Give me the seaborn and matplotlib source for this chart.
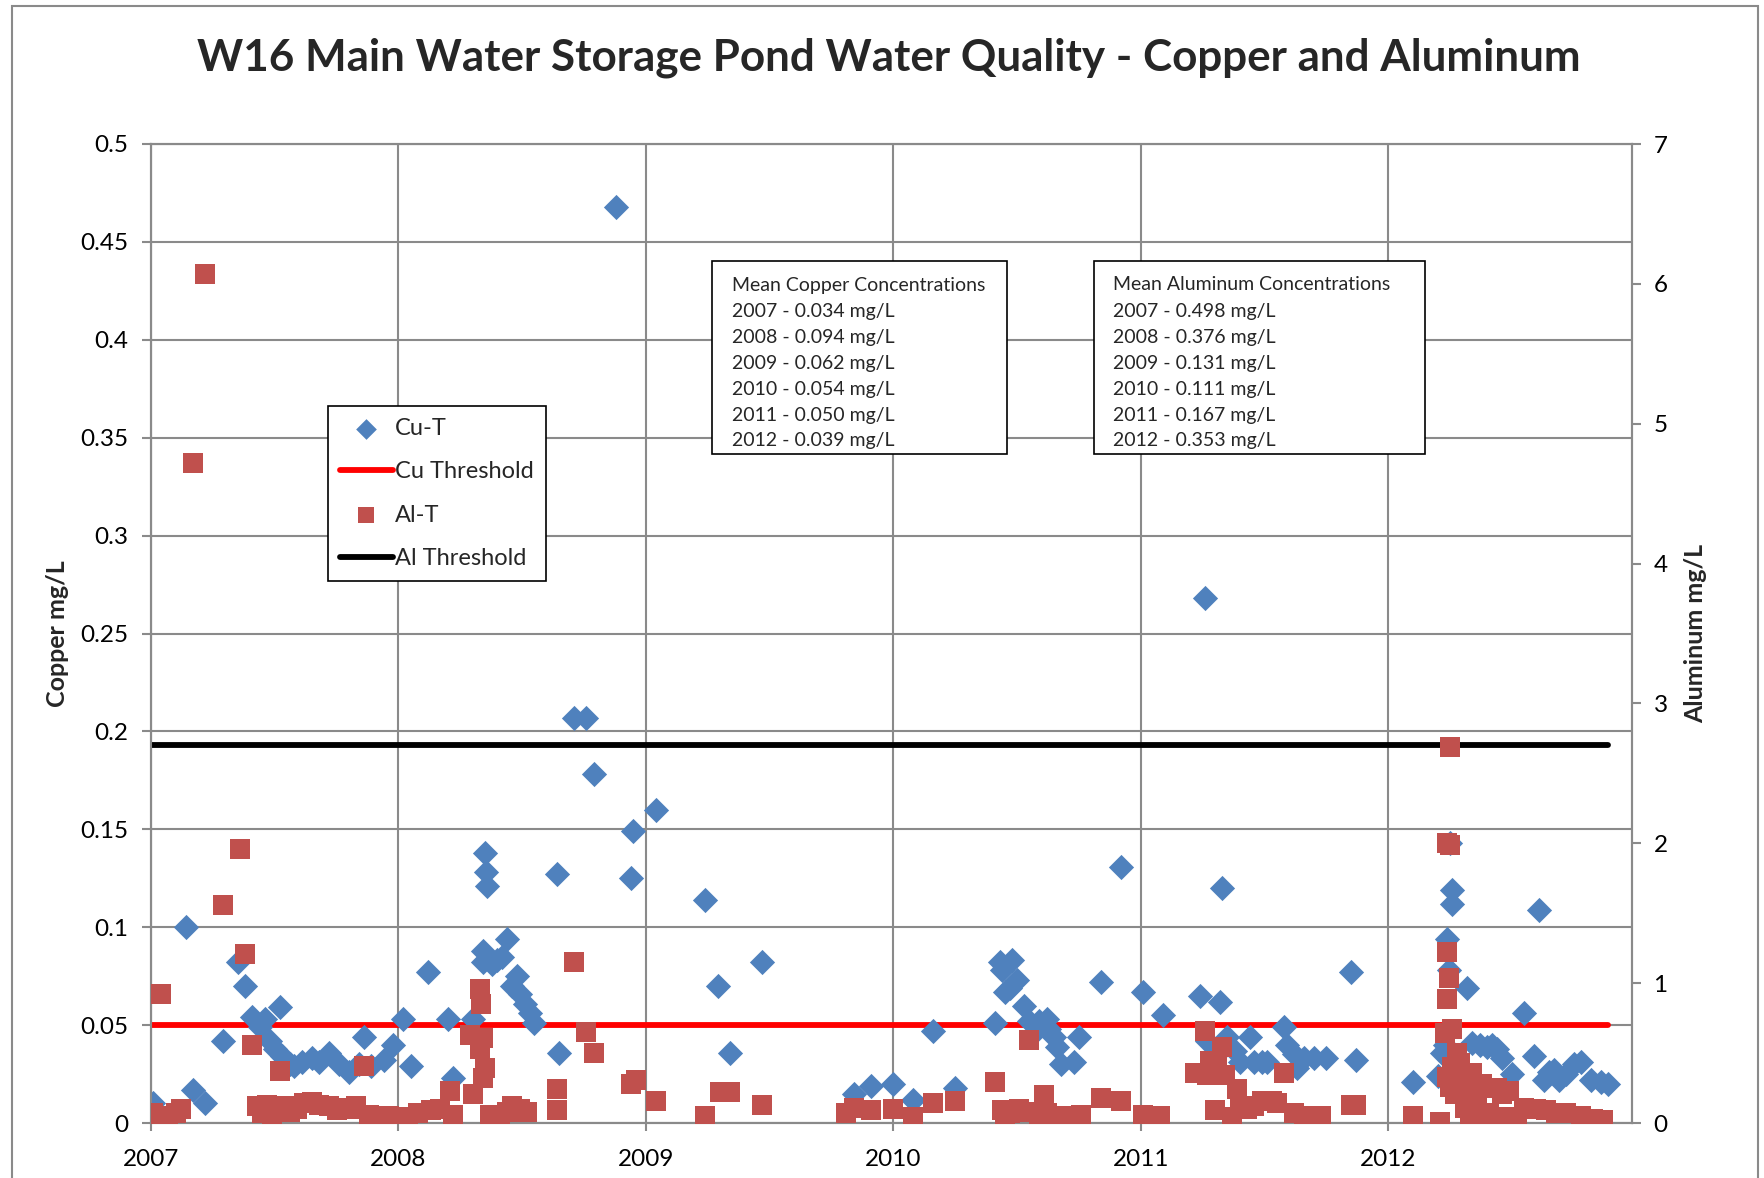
import matplotlib
matplotlib.use("Agg")
import matplotlib.pyplot as plt
import seaborn as sns
import pandas as pd
import numpy as np
from matplotlib.patches import Rectangle

# ---------------- data ----------------
cu_year = [2007.01, 2007.14, 2007.17, 2007.22, 2007.29, 2007.35, 2007.38, 2007.41, 2007.44, 2007.46,
           2007.48, 2007.50, 2007.52, 2007.53, 2007.56, 2007.58, 2007.61, 2007.65, 2007.68, 2007.72,
           2007.76, 2007.80, 2007.84, 2007.86, 2007.89, 2007.94, 2007.98, 2008.02, 2008.05, 2008.12,
           2008.20, 2008.22, 2008.30, 2008.34, 2008.34, 2008.35, 2008.355, 2008.36, 2008.38, 2008.40,
           2008.42, 2008.44, 2008.46, 2008.48, 2008.49, 2008.51, 2008.53, 2008.55, 2008.64, 2008.65,
           2008.71, 2008.76, 2008.79, 2008.88, 2008.94, 2008.95, 2009.04, 2009.24, 2009.29, 2009.34,
           2009.47, 2009.84, 2009.91, 2010.00, 2010.08, 2010.16, 2010.25, 2010.41, 2010.43, 2010.44,
           2010.45, 2010.47, 2010.48, 2010.50, 2010.53, 2010.55, 2010.56, 2010.59, 2010.62, 2010.63,
           2010.65, 2010.66, 2010.68, 2010.73, 2010.75, 2010.84, 2010.92, 2011.01, 2011.09, 2011.24,
           2011.26, 2011.27, 2011.30, 2011.32, 2011.33, 2011.35, 2011.38, 2011.40, 2011.44, 2011.46,
           2011.49, 2011.51, 2011.58, 2011.59, 2011.62, 2011.63, 2011.66, 2011.70, 2011.75, 2011.85,
           2011.87, 2012.10, 2012.20, 2012.22, 2012.23, 2012.24, 2012.245, 2012.25, 2012.26, 2012.26,
           2012.32, 2012.34, 2012.37, 2012.40, 2012.42, 2012.44, 2012.46, 2012.50, 2012.55, 2012.59,
           2012.61, 2012.63, 2012.65, 2012.67, 2012.69, 2012.72, 2012.75, 2012.78, 2012.82, 2012.86,
           2012.89]
cu_value = [0.010, 0.100, 0.017, 0.010, 0.042, 0.082, 0.070, 0.054, 0.049, 0.053,
            0.042, 0.038, 0.059, 0.034, 0.030, 0.029, 0.031, 0.033, 0.031, 0.036,
            0.030, 0.026, 0.030, 0.044, 0.029, 0.032, 0.040, 0.053, 0.029, 0.077,
            0.053, 0.023, 0.053, 0.088, 0.082, 0.138, 0.128, 0.121, 0.081, 0.083,
            0.085, 0.094, 0.070, 0.075, 0.066, 0.061, 0.056, 0.051, 0.127, 0.036,
            0.207, 0.207, 0.178, 0.468, 0.125, 0.149, 0.160, 0.114, 0.070, 0.036,
            0.082, 0.015, 0.019, 0.020, 0.012, 0.047, 0.018, 0.051, 0.082, 0.078,
            0.067, 0.069, 0.083, 0.073, 0.060, 0.052, 0.045, 0.052, 0.053, 0.048,
            0.044, 0.039, 0.030, 0.031, 0.044, 0.072, 0.131, 0.067, 0.055, 0.065,
            0.268, 0.042, 0.034, 0.062, 0.120, 0.044, 0.037, 0.031, 0.044, 0.031,
            0.031, 0.031, 0.049, 0.040, 0.035, 0.028, 0.033, 0.033, 0.033, 0.077,
            0.032, 0.021, 0.024, 0.036, 0.040, 0.094, 0.078, 0.143, 0.119, 0.112,
            0.069, 0.041, 0.040, 0.039, 0.040, 0.038, 0.033, 0.025, 0.056, 0.034,
            0.109, 0.022, 0.026, 0.027, 0.022, 0.025, 0.030, 0.031, 0.022, 0.021,
            0.020]

al_year = [2007.01, 2007.02, 2007.04, 2007.05, 2007.07, 2007.10, 2007.12, 2007.17, 2007.22, 2007.29,
           2007.36, 2007.38, 2007.41, 2007.43, 2007.45, 2007.47, 2007.49, 2007.52, 2007.54, 2007.56,
           2007.59, 2007.62, 2007.65, 2007.68, 2007.72, 2007.75, 2007.78, 2007.80, 2007.83, 2007.86,
           2007.88, 2007.92, 2007.96, 2008.00, 2008.04, 2008.08, 2008.13, 2008.17, 2008.21, 2008.22,
           2008.29, 2008.30, 2008.33, 2008.335, 2008.34, 2008.33, 2008.35, 2008.34, 2008.37, 2008.39,
           2008.41, 2008.44, 2008.46, 2008.49, 2008.52, 2008.64, 2008.64, 2008.71, 2008.76, 2008.79,
           2008.94, 2008.96, 2009.04, 2009.24, 2009.30, 2009.34, 2009.47, 2009.81, 2009.84, 2009.91,
           2010.00, 2010.08, 2010.16, 2010.25, 2010.41, 2010.44, 2010.45, 2010.47, 2010.49, 2010.51,
           2010.55, 2010.56, 2010.59, 2010.61, 2010.62, 2010.65, 2010.68, 2010.71, 2010.73, 2010.76,
           2010.84, 2010.92, 2011.01, 2011.08, 2011.22, 2011.26, 2011.27, 2011.28, 2011.30, 2011.31,
           2011.33, 2011.34, 2011.37, 2011.39, 2011.40, 2011.43, 2011.46, 2011.49, 2011.53, 2011.55,
           2011.58, 2011.62, 2011.66, 2011.69, 2011.73, 2011.85, 2011.87, 2012.10, 2012.21, 2012.25,
           2012.24, 2012.25, 2012.24, 2012.245, 2012.24, 2012.23, 2012.26, 2012.28, 2012.24, 2012.26,
           2012.25, 2012.27, 2012.29, 2012.28, 2012.30, 2012.31, 2012.32, 2012.34, 2012.36, 2012.38,
           2012.33, 2012.39, 2012.41, 2012.44, 2012.46, 2012.46, 2012.49, 2012.52, 2012.55, 2012.60,
           2012.64, 2012.68, 2012.72, 2012.78, 2012.83, 2012.87]
al_value = [0.07, 0.05, 0.92, 0.03, 0.04, 0.07, 0.10, 4.72, 6.07, 1.56,
            1.96, 1.21, 0.56, 0.12, 0.07, 0.13, 0.05, 0.37, 0.12, 0.08,
            0.10, 0.14, 0.15, 0.13, 0.12, 0.09, 0.11, 0.10, 0.12, 0.41,
            0.06, 0.05, 0.05, 0.04, 0.04, 0.07, 0.09, 0.10, 0.23, 0.06,
            0.63, 0.21, 0.96, 0.85, 0.61, 0.53, 0.39, 0.32, 0.06, 0.04,
            0.06, 0.08, 0.12, 0.10, 0.08, 0.24, 0.09, 1.15, 0.65, 0.50,
            0.28, 0.31, 0.16, 0.05, 0.22, 0.22, 0.13, 0.07, 0.11, 0.09,
            0.10, 0.04, 0.14, 0.16, 0.29, 0.09, 0.05, 0.07, 0.08, 0.10,
            0.59, 0.08, 0.06, 0.20, 0.07, 0.05, 0.04, 0.05, 0.04, 0.06,
            0.18, 0.16, 0.06, 0.05, 0.36, 0.66, 0.34, 0.44, 0.09, 0.42,
            0.54, 0.34, 0.04, 0.24, 0.12, 0.10, 0.12, 0.16, 0.16, 0.14,
            0.36, 0.07, 0.05, 0.04, 0.05, 0.13, 0.13, 0.05, 0.01, 2.69,
            2.00, 1.99, 1.22, 1.04, 0.89, 0.64, 0.67, 0.50, 0.33, 0.40,
            0.26, 0.21, 0.43, 0.30, 0.27, 0.11, 0.25, 0.36, 0.15, 0.28,
            0.06, 0.04, 0.07, 0.25, 0.21, 0.04, 0.23, 0.04, 0.11, 0.10,
            0.09, 0.07, 0.07, 0.05, 0.03, 0.02]

cu_threshold = [0.05, 0.05]
al_threshold = [2.7, 2.7]
threshold_years = [2007.0, 2012.89]

year_ticks = [2007, 2008, 2009, 2010, 2011, 2012]
cu_ticks = [0, 0.05, 0.1, 0.15, 0.2, 0.25, 0.3, 0.35, 0.4, 0.45, 0.5]
al_ticks = [0, 1, 2, 3, 4, 5, 6, 7]

cu_mean_lines = ["Mean Copper Concentrations", "2007 - 0.034 mg/L", "2008 - 0.094 mg/L",
                 "2009 - 0.062 mg/L", "2010 - 0.054 mg/L", "2011 - 0.050 mg/L", "2012 - 0.039 mg/L"]
al_mean_lines = ["Mean Aluminum Concentrations", "2007 - 0.498 mg/L", "2008 - 0.376 mg/L",
                 "2009 - 0.131 mg/L", "2010 - 0.111 mg/L", "2011 - 0.167 mg/L", "2012 - 0.353 mg/L"]

cu_df = pd.DataFrame({"year": cu_year, "value": cu_value})
al_df = pd.DataFrame({"year": al_year, "value": al_value})
cu_thr_df = pd.DataFrame({"year": threshold_years, "value": cu_threshold})
al_thr_df = pd.DataFrame({"year": threshold_years, "value": al_threshold})

# ---------------- style ----------------
sns.set_theme(style="white")
plt.rcParams["font.family"] = ["Lato", "DejaVu Sans"]

W, H = 1765, 1178
fig = plt.figure(figsize=(W / 100, H / 100), dpi=100)

def fx(x):
    return x / W

def fy(y):
    return 1 - y / H

left, right, top, bottom = 151, 1632, 144, 1123
ax = fig.add_axes([fx(left), fy(bottom), fx(right) - fx(left), fy(top) - fy(bottom)])
ax2 = ax.twinx()

GRID = "#8a8a8a"
BLUE = "#4F81BD"
RED = "#C0504D"

# primary: copper
sns.lineplot(data=cu_thr_df, x="year", y="value", ax=ax, color="#FF0000", lw=4.2,
             label="Cu Threshold", legend=False, zorder=2, solid_capstyle="round")
sns.scatterplot(data=cu_df, x="year", y="value", ax=ax, marker="D", s=165, color=BLUE,
                linewidth=0, label="Cu-T", legend=False, zorder=3)

# secondary: aluminum
sns.lineplot(data=al_thr_df, x="year", y="value", ax=ax2, color="black", lw=4.2,
             label="Al Threshold", legend=False, zorder=2, solid_capstyle="round")
sns.scatterplot(data=al_df, x="year", y="value", ax=ax2, marker="s", s=215, color=RED,
                linewidth=0, label="Al-T", legend=False, zorder=3)

ax.set_xlim(2007, 2012.986)
ax.set_ylim(0, 0.5)
ax2.set_ylim(0, 7)

ax.set_xticks(year_ticks)
ax.set_xticklabels([str(y) for y in year_ticks])
ax.set_yticks(cu_ticks)
ax.set_yticklabels([f"{v:g}" for v in cu_ticks])
ax2.set_yticks(al_ticks)
ax2.set_yticklabels([str(v) for v in al_ticks])

ax.set_axisbelow(True)
ax.grid(True, color=GRID, lw=1.5)
ax2.grid(False)

for a in (ax, ax2):
    for s in a.spines.values():
        s.set_color(GRID)
        s.set_linewidth(1.5)

TICKFS = 17.5
ax.tick_params(axis="y", which="major", direction="out", length=6.5, width=1.5, color=GRID,
               pad=10, labelsize=TICKFS, labelcolor="black", left=True)
ax.tick_params(axis="x", which="major", direction="out", length=5.5, width=1.5, color=GRID,
               pad=13, labelsize=TICKFS, labelcolor="black", bottom=True)
ax2.tick_params(axis="y", which="major", direction="out", length=6.5, width=1.5, color=GRID,
                pad=9, labelsize=TICKFS, labelcolor="black", right=True)

ax.set_xlabel("")
ax.set_ylabel("Copper mg/L", fontsize=18, fontweight="bold", labelpad=8)
ax2.set_ylabel("Aluminum mg/L", fontsize=18, fontweight="bold", labelpad=12)

# legend
h1, l1 = ax.get_legend_handles_labels()
h2, l2 = ax2.get_legend_handles_labels()
hmap = dict(zip(l1 + l2, h1 + h2))
order = ["Cu-T", "Cu Threshold", "Al-T", "Al Threshold"]
leg = ax2.legend([hmap[k] for k in order], order, loc="upper left",
                 bbox_to_anchor=((328 - left) / (right - left), (bottom - 406) / (bottom - top)),
                 borderaxespad=0, frameon=True, fancybox=False, fontsize=17,
                 handlelength=2.25, handletextpad=0.1, labelspacing=0.95, borderpad=0.5,
                 markerscale=0.82)
leg.get_frame().set_edgecolor("black")
leg.get_frame().set_linewidth(1.2)
leg.get_frame().set_facecolor("white")
leg.get_frame().set_alpha(1)
leg.set_zorder(10)

# title
fig.text(fx(889), fy(58), "W16 Main Water Storage Pond Water Quality - Copper and Aluminum",
         ha="center", va="center", fontsize=31.7, fontweight="bold")

# text boxes
def text_box(x0, y0, x1, y1, tx, lines):
    fig.add_artist(Rectangle((fx(x0), fy(y1)), fx(x1) - fx(x0), fy(y0) - fy(y1),
                             transform=fig.transFigure, facecolor="white",
                             edgecolor="black", lw=1.2, zorder=5))
    for i, line in enumerate(lines):
        fig.text(fx(tx), fy(285 + 26 * i), line, ha="left", va="center",
                 fontsize=14, zorder=6)

text_box(712, 261, 1007, 454, 732, cu_mean_lines)
text_box(1094, 261, 1425, 454, 1113, al_mean_lines)

# chart-area border
fig.add_artist(Rectangle((fx(12), -0.2), fx(1758) - fx(12), fy(6) + 0.2,
                         transform=fig.transFigure, facecolor="none",
                         edgecolor="#8a8a8a", lw=1.5, zorder=0))

fig.savefig("out.png", dpi=100)
